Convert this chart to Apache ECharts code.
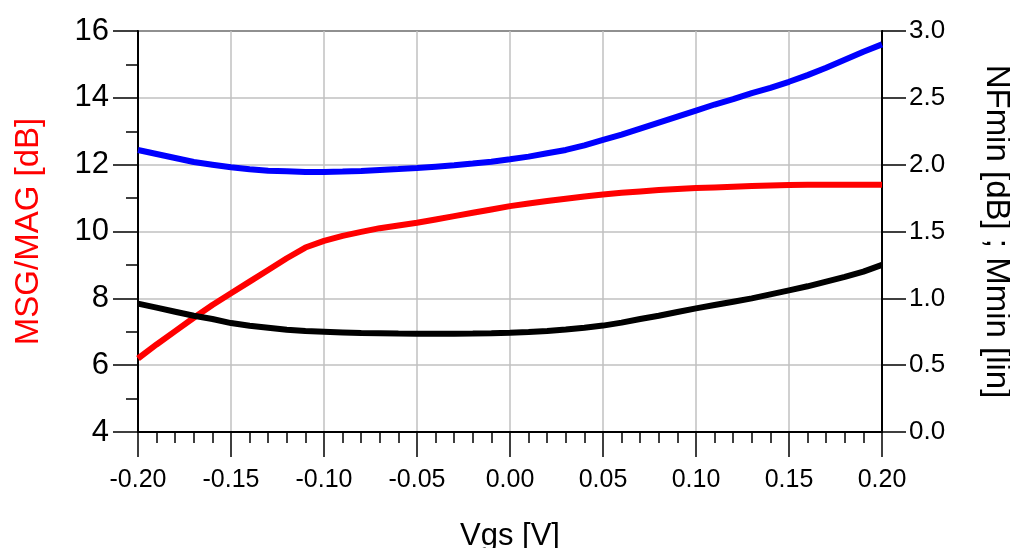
<!DOCTYPE html>
<html>
<head>
<meta charset="utf-8">
<script src="https://cdn.jsdelivr.net/npm/echarts@6/dist/echarts.min.js"></script>
<style>
  html, body { margin: 0; padding: 0; background: #fff; }
  #chart { width: 1010px; height: 548px; }
</style>
</head>
<body>
<div id="chart"></div>
<script>
// Gate bias sweep (V)
const vgs = [-0.20, -0.19, -0.18, -0.17, -0.16, -0.15, -0.14, -0.13, -0.12, -0.11,
             -0.10, -0.09, -0.08, -0.07, -0.06, -0.05, -0.04, -0.03, -0.02, -0.01,
              0.00,  0.01,  0.02,  0.03,  0.04,  0.05,  0.06,  0.07,  0.08,  0.09,
              0.10,  0.11,  0.12,  0.13,  0.14,  0.15,  0.16,  0.17,  0.18,  0.19, 0.20];

// MSG/MAG in dB (left axis)
const msgMag = [6.20, 6.62, 7.02, 7.42, 7.80, 8.15, 8.50, 8.85, 9.20, 9.52,
                9.72, 9.87, 9.99, 10.10, 10.18, 10.26, 10.36, 10.46, 10.56, 10.66,
                10.76, 10.84, 10.91, 10.98, 11.05, 11.11, 11.16, 11.20, 11.24, 11.27,
                11.30, 11.32, 11.34, 11.36, 11.38, 11.39, 11.40, 11.40, 11.40, 11.40, 11.40];

// NFmin in dB (right axis)
const nfMin = [2.11, 2.08, 2.05, 2.02, 2.00, 1.98, 1.965, 1.955, 1.950, 1.945,
               1.945, 1.948, 1.953, 1.960, 1.967, 1.975, 1.985, 1.995, 2.008, 2.022,
               2.040, 2.060, 2.085, 2.110, 2.145, 2.185, 2.225, 2.270, 2.315, 2.360,
               2.405, 2.450, 2.490, 2.535, 2.575, 2.620, 2.670, 2.725, 2.785, 2.845, 2.900];

// Mmin, linear (right axis)
const mMin = [0.96, 0.93, 0.90, 0.87, 0.845, 0.815, 0.795, 0.780, 0.765, 0.755,
              0.750, 0.745, 0.740, 0.738, 0.736, 0.735, 0.735, 0.735, 0.736, 0.738,
              0.742, 0.748, 0.756, 0.767, 0.780, 0.796, 0.818, 0.845, 0.870, 0.898,
              0.925, 0.950, 0.975, 1.000, 1.030, 1.060, 1.090, 1.125, 1.160, 1.200, 1.250];

const FONT = 'Liberation Sans, Arial, sans-serif';

function pairs(ys) { return vgs.map((x, i) => [x, ys[i]]); }

const chart = echarts.init(document.getElementById('chart'), null, { renderer: 'canvas' });

chart.setOption({
  animation: false,
  backgroundColor: '#ffffff',
  grid: {
    left: 138, right: 128, top: 31, bottom: 116,
    outerBoundsMode: 'none', containLabel: false,
    show: true, borderColor: '#000', borderWidth: 2, backgroundColor: 'transparent'
  },
  xAxis: {
    type: 'value', min: -0.2, max: 0.2, interval: 0.05,
    name: 'Vgs [V]', nameLocation: 'middle', nameGap: 89,
    nameTextStyle: { fontFamily: FONT, fontSize: 31, color: '#000' },
    axisLine: { show: true, onZero: false, lineStyle: { color: '#000', width: 2 } },
    axisTick: { show: true, inside: false, length: 25, lineStyle: { color: '#000', width: 1.5 } },
    minorTick: { show: true, splitNumber: 5, length: 11, lineStyle: { color: '#000', width: 1.5 } },
    axisLabel: { fontFamily: FONT, fontSize: 25, color: '#000', margin: 36,
                 formatter: v => v.toFixed(2) },
    splitLine: { show: true, lineStyle: { color: '#c0c0c0', width: 1.5 } }
  },
  yAxis: [
    {
      type: 'value', position: 'left', min: 4, max: 16, interval: 2,
      name: 'MSG/MAG [dB]', nameLocation: 'middle', nameGap: 93, nameRotate: 90,
      nameTextStyle: { fontFamily: FONT, fontSize: 33, color: '#ff0000' },
      axisLine: { show: true, onZero: false, lineStyle: { color: '#000', width: 2 } },
      axisTick: { show: true, inside: false, length: 25, lineStyle: { color: '#000', width: 1.5 } },
      minorTick: { show: true, splitNumber: 2, length: 12, lineStyle: { color: '#000', width: 1.5 } },
      axisLabel: { fontFamily: FONT, fontSize: 31, color: '#000', margin: 29 },
      splitLine: { show: true, lineStyle: { color: '#c0c0c0', width: 1.5 } }
    },
    {
      type: 'value', position: 'right', min: 0, max: 3, interval: 0.5,
      name: 'NFmin [dB] ; Mmin [lin]', nameLocation: 'middle', nameGap: 98, nameRotate: -90,
      nameTextStyle: { fontFamily: FONT, fontSize: 33, color: '#000' },
      axisLine: { show: true, onZero: false, lineStyle: { color: '#000', width: 2 } },
      axisTick: { show: true, inside: false, length: 24, lineStyle: { color: '#000', width: 1.5 } },
      axisLabel: { fontFamily: FONT, fontSize: 26, color: '#000', margin: 27,
                   formatter: v => v.toFixed(1) },
      splitLine: { show: false }
    }
  ],
  series: [
    {
      name: 'MSG/MAG', type: 'line', yAxisIndex: 0, data: pairs(msgMag),
      showSymbol: false, smooth: false,
      lineStyle: { color: '#ff0000', width: 6 }, z: 3
    },
    {
      name: 'NFmin', type: 'line', yAxisIndex: 1, data: pairs(nfMin),
      showSymbol: false, smooth: false,
      lineStyle: { color: '#0000ff', width: 6 }, z: 3
    },
    {
      name: 'Mmin', type: 'line', yAxisIndex: 1, data: pairs(mMin),
      showSymbol: false, smooth: false,
      lineStyle: { color: '#000000', width: 6 }, z: 3
    }
  ]
});
</script>
</body>
</html>
